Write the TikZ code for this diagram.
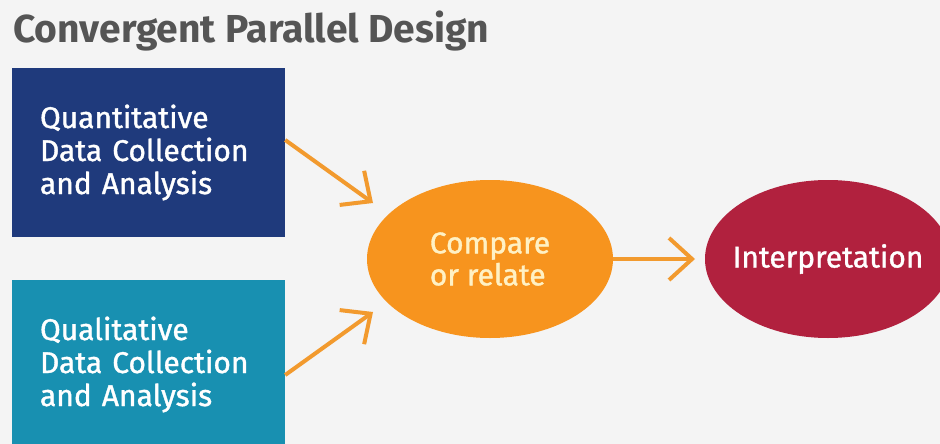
\documentclass[tikz,border=0pt]{standalone}
\usepackage{fontspec}
\setmainfont{Fira Sans}
\newfontfamily\medfont{Fira Sans}[FakeBold=1.2]
\usetikzlibrary{arrows.meta,shapes.geometric}
\definecolor{bggray}{HTML}{F4F4F4}
\definecolor{titlegray}{HTML}{555555}
\definecolor{quantblue}{HTML}{1F3A7C}
\definecolor{qualteal}{HTML}{1890B1}
\definecolor{cmporange}{HTML}{F7941E}
\definecolor{interpred}{HTML}{B1213E}
\definecolor{arroworange}{HTML}{F29A2E}
\definecolor{cream}{HTML}{FFF1C4}
\begin{document}
\begin{tikzpicture}[x=1pt,y=-1pt,
    boxnode/.style={rectangle, minimum width=273pt, minimum height=169pt, inner xsep=28pt, text width=217pt, align=left, text=white, font=\medfont\fontsize{30}{33}\selectfont},
    ovalnode/.style={ellipse, minimum width=246pt, minimum height=158pt, inner sep=0pt, align=left, font=\medfont\fontsize{30}{32}\selectfont},
    flow/.style={draw=arroworange, line width=4pt, -{Straight Barb[length=23pt,width=42pt]}}
    ]
    \fill[bggray] (0,0) rectangle (940,444);
    \useasboundingbox (0,0) rectangle (940,444);

    \node [anchor=base west, inner sep=0pt, text=titlegray, font=\bfseries\fontsize{39}{44}\selectfont] (title) at (13,43) {Convergent Parallel Design};

    \node [boxnode, fill=quantblue] (quant) at (148.5,152.5) {Quantitative\\Data Collection\\and Analysis};
    \node [boxnode, fill=qualteal] (qual) at (148.5,364.5) {Qualitative\\Data Collection\\and Analysis};

    \node [ovalnode, fill=cmporange, text=cream] (cmp) at (490,259) {Compare\\or relate};
    \node [ovalnode, fill=interpred, label={[text=white, font=\medfont\fontsize{30}{32}\selectfont]center:Interpretation}] (interp) at (828,259) {};

    \coordinate (tipq) at (373,203);
    \coordinate (tipl) at (373,312);
    \coordinate (tipi) at (695,259);

    \draw [flow] ([yshift=12.5pt]quant.east) -- (tipq);
    \draw [flow] ([yshift=-10.5pt]qual.east) -- (tipl);
    \draw [flow] (cmp.east) -- (tipi);
\end{tikzpicture}
\end{document}
